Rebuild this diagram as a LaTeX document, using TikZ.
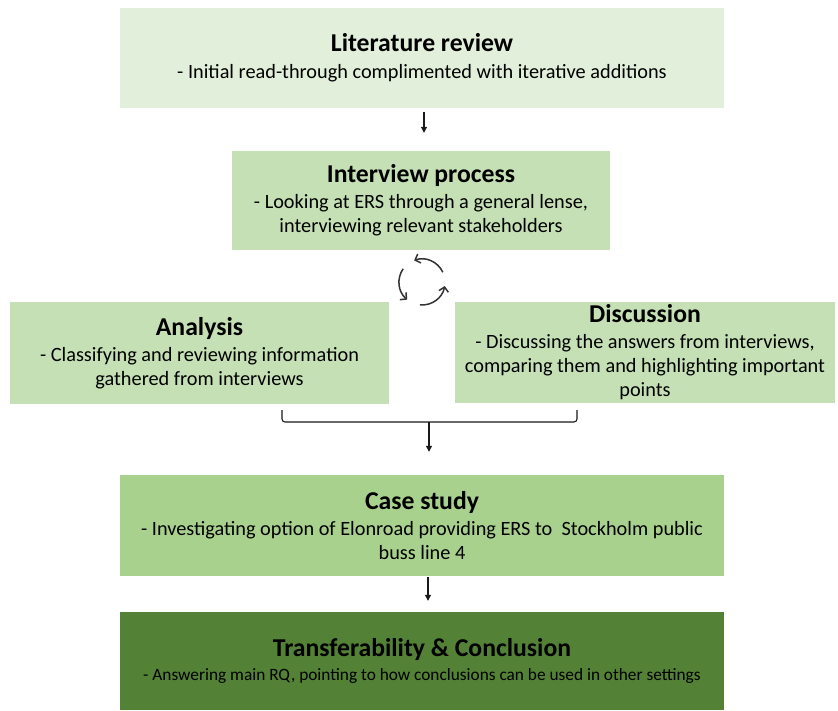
\documentclass[tikz,border=0pt]{standalone}
\usepackage{fontspec}
\setmainfont{Carlito}
\usetikzlibrary{arrows.meta,calc}

\definecolor{palegreen}{HTML}{E2EFDA}
\definecolor{midgreen}{HTML}{C5E0B4}
\definecolor{stronggreen}{HTML}{A9D18E}
\definecolor{deepgreen}{HTML}{538135}

\tikzset{
  stage/.style={rectangle, inner sep=0pt, align=center, text=black,
                font=\fontsize{20.3}{24}\selectfont},
  flow/.style={-{Triangle[length=6pt,width=6pt]}, line width=1.1pt, black!90},
  cycarrow/.style={-{Straight Barb[length=4.5pt,width=9.5pt]}, line width=1.5pt, black!80},
  brace/.style={line width=1.1pt, black!90, rounded corners=3pt},
}
\newcommand{\stagetitle}[1]{{\fontsize{25.7}{30}\selectfont\bfseries #1}}

\begin{document}
\begin{tikzpicture}[x=1pt,y=-1pt]
  \path[use as bounding box] (0,0) rectangle (838,711);

  % process stages
  \node[stage, fill=palegreen, minimum width=604pt, minimum height=100pt] (lit) at (422,58)
    {\stagetitle{Literature review}\\[3pt]
     - Initial read-through complimented with iterative additions};

  \node[stage, fill=midgreen, minimum width=378pt, minimum height=99pt] (int) at (421,200.5)
    {\stagetitle{Interview process}\\[2pt]
     - Looking at ERS through a general lense,\\
     interviewing relevant stakeholders};

  \node[stage, fill=midgreen, minimum width=379pt, minimum height=101pt] (ana) at (199.5,353)
    {\stagetitle{Analysis}\\[2pt]
     - Classifying and reviewing information\\
     gathered from interviews};

  \node[stage, fill=midgreen, minimum width=380pt, minimum height=101pt] (dis) at (645,352.5)
    {\stagetitle{Discussion}\\[2pt]
     - Discussing the answers from interviews,\\
     comparing them and highlighting important\\
     points};

  \node[stage, fill=stronggreen, minimum width=604pt, minimum height=101pt] (case) at (422,525.5)
    {\stagetitle{Case study}\\[2pt]
     - Investigating option of Elonroad providing ERS to\ \ Stockholm public\\
     buss line 4};

  \node[stage, fill=deepgreen, minimum width=604pt, minimum height=98pt,
        font=\fontsize{17.3}{21}\selectfont] (trans) at (422,661)
    {\stagetitle{Transferability \& Conclusion}\\[3pt]
     - Answering main RQ, pointing to how conclusions can be used in other settings};

  % flow arrows
  \draw[flow, shorten <=4pt, shorten >=18pt]
    ($(lit.south)+(2,0)$) -- ($(int.north)+(3,0)$);

  % bracket joining analysis and discussion
  \coordinate (braceL) at (282,410);
  \coordinate (braceR) at (577,410);
  \coordinate (braceM) at (429,422);
  \draw[brace] (braceL) -- (braceL |- braceM) -- (braceR |- braceM) -- (braceR);
  \draw[flow, shorten >=23pt] (braceM) -- (braceM |- case.north);

  \draw[flow, shorten <=1pt, shorten >=11pt]
    ($(case.south)+(6,0)$) -- ($(trans.north)+(6,0)$);

  % iteration cycle symbol
  \coordinate (cyc) at (422,282);
  \draw[cycarrow] ($(cyc)+(-25:23)$) arc[start angle=-25, end angle=-110, radius=23];
  \draw[cycarrow] ($(cyc)+(-145:23)$) arc[start angle=-145, end angle=-230, radius=23];
  \draw[cycarrow] ($(cyc)+(-265:23)$) arc[start angle=-265, end angle=-350, radius=23];
\end{tikzpicture}
\end{document}
